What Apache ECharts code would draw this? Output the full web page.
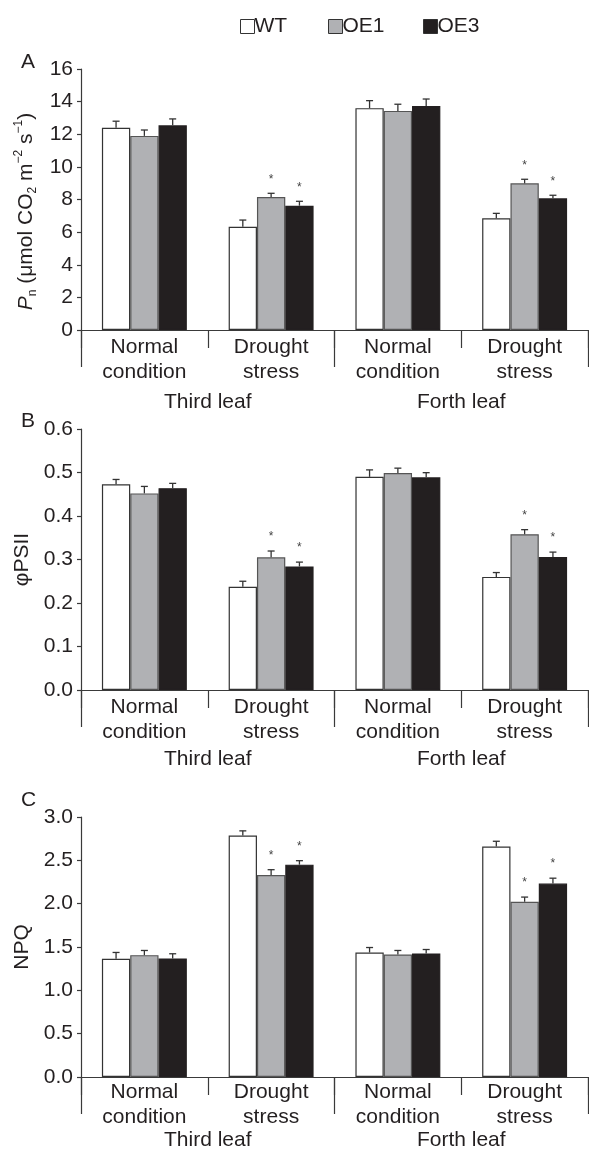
<!DOCTYPE html>
<html><head><meta charset="utf-8">
<script src="https://cdn.jsdelivr.net/npm/echarts@6/dist/echarts.min.js"></script>
<style>html,body{margin:0;padding:0;background:#fff}#c{width:589px;height:1153px}</style>
</head><body><div id="c"></div>
<script>
// ---- data ----
const conditions = ['Normal\ncondition', 'Drought\nstress', 'Normal\ncondition', 'Drought\nstress'];
const leaves = ['Third leaf', 'Forth leaf'];
const seriesNames = ['WT', 'OE1', 'OE3'];

// Panel A: Pn
const pnWT = [12.4, 6.33, 13.6, 6.85];
const pnOE1 = [11.9, 8.15, 13.43, 8.99];
const pnOE3 = [12.55, 7.62, 13.73, 8.07];
const pnErrWT = [0.4, 0.41, 0.46, 0.3];
const pnErrOE1 = [0.36, 0.23, 0.41, 0.25];
const pnErrOE3 = [0.39, 0.27, 0.43, 0.19];
const pnSigOE1 = [0, 1, 0, 1];
const pnSigOE3 = [0, 1, 0, 1];

// Panel B: phiPSII
const psWT = [0.473, 0.2375, 0.49, 0.26];
const psOE1 = [0.452, 0.305, 0.499, 0.358];
const psOE3 = [0.464, 0.284, 0.489, 0.306];
const psErrWT = [0.011, 0.0125, 0.016, 0.01];
const psErrOE1 = [0.016, 0.0145, 0.011, 0.0106];
const psErrOE3 = [0.011, 0.01, 0.0106, 0.011];
const psSigOE1 = [0, 1, 0, 1];
const psSigOE3 = [0, 1, 0, 1];

// Panel C: NPQ
const npqWT = [1.365, 2.787, 1.437, 2.66];
const npqOE1 = [1.406, 2.331, 1.414, 2.022];
const npqOE3 = [1.368, 2.45, 1.425, 2.232];
const npqErrWT = [0.072, 0.053, 0.057, 0.06];
const npqErrOE1 = [0.054, 0.061, 0.046, 0.054];
const npqErrOE3 = [0.054, 0.046, 0.046, 0.062];
const npqSigOE1 = [0, 1, 0, 1];
const npqSigOE3 = [0, 1, 0, 1];

// ---- styles ----
const FONT = 'Liberation Sans, Arial, sans-serif';
const TXT = '#231f20';
const AX = '#3a3a3a';
const fills = ['#ffffff', '#b0b1b4', '#231f20'];
const borders = ['#333333', '#555555', '#231f20'];
const CAT_GAP = 0.33;
const FS = 21;

const grids = [
  { left: 81, right: 1, top: 69, height: 261 },
  { left: 81, right: 1, top: 429, height: 261 },
  { left: 81, right: 1, top: 817, height: 261 }
];

const panels = [
  { vals: [pnWT, pnOE1, pnOE3], errs: [pnErrWT, pnErrOE1, pnErrOE3], sig: [null, pnSigOE1, pnSigOE3],
    min: 0, max: 16, interval: 2, fmt: v => String(v), catMargin: 5, leafMargin: 60,
    name: '{i|P}{sub|n}{n| (μmol CO}{sub|2}{n| m}{sup|−2}{n| s}{sup|−1}{n|)}', nameGap: 33, namePad: [0, 24, 0, 0] },
  { vals: [psWT, psOE1, psOE3], errs: [psErrWT, psErrOE1, psErrOE3], sig: [null, psSigOE1, psSigOE3],
    min: 0, max: 0.6, interval: 0.1, fmt: v => v.toFixed(1), catMargin: 5, leafMargin: 57,
    name: '{n|φPSII}', nameGap: 45, namePad: 0 },
  { vals: [npqWT, npqOE1, npqOE3], errs: [npqErrWT, npqErrOE1, npqErrOE3], sig: [null, npqSigOE1, npqSigOE3],
    min: 0, max: 3, interval: 0.5, fmt: v => v.toFixed(1), catMargin: 3, leafMargin: 51,
    name: '{n|NPQ}', nameGap: 45, namePad: 0 }
];

const xAxis = [], yAxis = [], series = [];
panels.forEach((p, g) => {
  xAxis.push({
    type: 'category', gridIndex: g, data: conditions, position: 'bottom',
    axisLine: { show: true, lineStyle: { color: AX, width: 1.2 } },
    axisTick: { show: true, length: 18, interval: 0, lineStyle: { color: AX, width: 1.2 } },
    axisLabel: { interval: 0, margin: p.catMargin, fontSize: FS, lineHeight: 25, color: TXT, fontFamily: FONT }
  });
  xAxis.push({
    type: 'category', gridIndex: g, data: leaves, position: 'bottom',
    axisLine: { show: true, lineStyle: { color: AX, width: 1.2 } },
    axisTick: { show: true, length: 37, interval: 0, lineStyle: { color: AX, width: 1.2 } },
    axisLabel: { interval: 0, margin: p.leafMargin, fontSize: FS, lineHeight: 25, color: TXT, fontFamily: FONT }
  });
  yAxis.push({
    type: 'value', gridIndex: g, min: p.min, max: p.max, interval: p.interval,
    axisLine: { show: true, lineStyle: { color: AX, width: 1.2 } },
    axisTick: { show: true, length: 4, lineStyle: { color: AX, width: 1.2 } },
    splitLine: { show: false },
    axisLabel: { fontSize: FS, color: TXT, fontFamily: FONT, margin: 8, formatter: p.fmt },
    name: p.name, nameLocation: 'middle', nameRotate: 90, nameGap: p.nameGap,
    nameTextStyle: {
      fontSize: FS, color: TXT, fontFamily: FONT, padding: p.namePad,
      rich: {
        n: { fontSize: FS, color: TXT, fontFamily: FONT, lineHeight: 26 },
        i: { fontSize: FS, color: TXT, fontFamily: FONT, fontStyle: 'italic', lineHeight: 26 },
        sub: { fontSize: 12, color: TXT, fontFamily: FONT, verticalAlign: 'bottom', lineHeight: 26 },
        sup: { fontSize: 12, color: TXT, fontFamily: FONT, verticalAlign: 'top', lineHeight: 26 }
      }
    }
  });
  seriesNames.forEach((nm, k) => {
    series.push({
      type: 'bar', name: nm, xAxisIndex: g * 2, yAxisIndex: g,
      data: p.vals[k], barGap: '0%', barCategoryGap: (CAT_GAP * 100) + '%',
      itemStyle: { color: fills[k], borderColor: borders[k], borderWidth: 1.2 },
      emphasis: { disabled: true }, animation: false
    });
  });
  seriesNames.forEach((nm, k) => {
    const sig = p.sig[k] || [0, 0, 0, 0];
    series.push({
      type: 'custom', xAxisIndex: g * 2, yAxisIndex: g, z: 5, animation: false,
      data: p.vals[k].map((v, i) => [i, v, p.errs[k][i], sig[i]]),
      renderItem: function (params, api) {
        const i = api.value(0), v = api.value(1), e = api.value(2), s = api.value(3);
        const band = api.size([1, 0])[0];
        const bw = band * (1 - CAT_GAP) / 3;
        const c = api.coord([i, v]);
        const x = c[0] + (k - 1) * bw;
        const y1 = c[1];
        const y2 = api.coord([i, v + e])[1];
        const ls = { stroke: '#333', lineWidth: 1.3 };
        const children = [
          { type: 'line', shape: { x1: x, y1: y1, x2: x, y2: y2 }, style: ls },
          { type: 'line', shape: { x1: x - 3.5, y1: y2, x2: x + 3.5, y2: y2 }, style: ls }
        ];
        if (s) children.push({ type: 'text', style: { text: '*', x: x, y: y2 - 14, align: 'center', verticalAlign: 'middle', fontSize: 12, fill: '#444', fontFamily: FONT } });
        return { type: 'group', children: children };
      }
    });
  });
});

const legendLefts = [235, 323, 418];
const legends = seriesNames.map((nm, k) => ({
  left: legendLefts[k], top: 11, itemWidth: 14, itemHeight: 14, icon: 'rect',
  selectedMode: false,
  data: [{ name: nm, itemStyle: { color: fills[k], borderColor: '#333', borderWidth: 1 } }],
  textStyle: { fontSize: FS, color: TXT, fontFamily: FONT, padding: [0, 0, 0, -5] }
}));

const chart = echarts.init(document.getElementById('c'), null, { renderer: 'canvas' });
chart.setOption({
  animation: false,
  backgroundColor: '#fff',
  textStyle: { fontFamily: FONT },
  legend: legends,
  grid: grids,
  xAxis: xAxis,
  yAxis: yAxis,
  series: series,
  graphic: [
    { type: 'text', left: 21, top: 52, style: { text: 'A', fontSize: FS, fill: TXT, fontFamily: FONT } },
    { type: 'text', left: 21, top: 411, style: { text: 'B', fontSize: FS, fill: TXT, fontFamily: FONT } },
    { type: 'text', left: 21, top: 790, style: { text: 'C', fontSize: FS, fill: TXT, fontFamily: FONT } }
  ]
});
</script>
</body></html>
